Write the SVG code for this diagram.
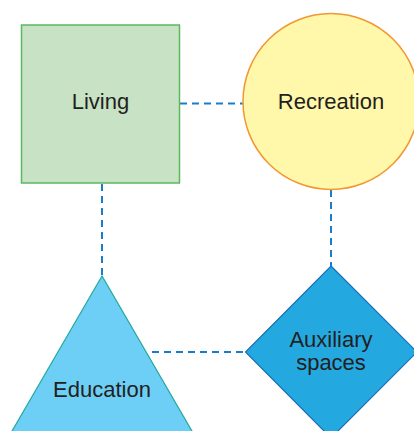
<svg xmlns="http://www.w3.org/2000/svg" width="414" height="431" viewBox="0 0 414 431">
<style>
.lbl{font-family:"Liberation Sans",Arial,sans-serif;font-size:22px;fill:#231f20;text-anchor:middle}
.conn{stroke:#1b7ccc;stroke-width:2;stroke-dasharray:7 5;fill:none}
</style>
<rect width="414" height="431" fill="#ffffff"/>
<g id="connectors">
<line class="conn" x1="180" y1="103.5" x2="243" y2="103.5"/>
<line class="conn" x1="102" y1="184" x2="102" y2="276"/>
<line class="conn" x1="331" y1="190" x2="331" y2="267"/>
<line class="conn" x1="152" y1="352" x2="245" y2="352"/>
</g>
<g id="living">
<rect x="21.5" y="25" width="158" height="158" fill="#c8e2c5" stroke="#5cb85f" stroke-width="1.5"/>
<text class="lbl" x="100.5" y="109">Living</text>
</g>
<g id="recreation">
<circle cx="331" cy="101.5" r="88" fill="#fff7aa" stroke="#f29731" stroke-width="1.5"/>
<text class="lbl" x="331" y="109">Recreation</text>
</g>
<g id="education">
<polygon points="102,276 8,438 196,438" fill="#6dcff5" stroke="#25a89e" stroke-width="1.2"/>
<text class="lbl" x="102" y="397">Education</text>
</g>
<g id="auxiliary">
<polygon points="331,266 417,352 331,438 245.5,352" fill="#24a8e0" stroke="#1b6db4" stroke-width="1.2"/>
<text class="lbl" x="331" y="347">Auxiliary</text>
<text class="lbl" x="331" y="370">spaces</text>
</g>
</svg>
